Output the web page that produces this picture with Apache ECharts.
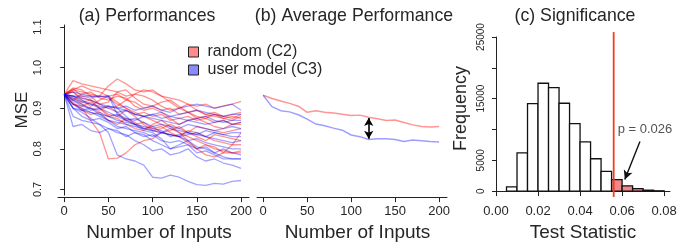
<!DOCTYPE html>
<html><head><meta charset="utf-8">
<script src="https://cdn.jsdelivr.net/npm/echarts@6/dist/echarts.min.js"></script>
<style>html,body{margin:0;padding:0;background:#fff}#c{width:686px;height:247px}</style>
</head><body><div id="c"></div>
<script>
// ---------- data ----------
const inputs = [0,10,20,30,40,50,60,70,80,90,100,110,120,130,140,150,160,170,180,190,200];

const randomRuns = [
  [0.934,0.945,0.940,0.935,0.930,0.955,0.972,0.960,0.945,0.940,0.945,0.930,0.925,0.920,0.910,0.905,0.910,0.900,0.905,0.910,0.917],
  [0.934,0.968,0.960,0.955,0.950,0.945,0.940,0.930,0.935,0.945,0.940,0.930,0.915,0.900,0.910,0.895,0.885,0.890,0.880,0.885,0.890],
  [0.934,0.910,0.900,0.870,0.840,0.775,0.777,0.790,0.810,0.820,0.825,0.840,0.835,0.830,0.815,0.800,0.810,0.805,0.790,0.790,0.795],
  [0.934,0.948,0.930,0.925,0.930,0.925,0.910,0.900,0.890,0.880,0.870,0.860,0.850,0.840,0.830,0.820,0.810,0.800,0.795,0.790,0.790],
  [0.934,0.940,0.925,0.920,0.910,0.900,0.905,0.920,0.935,0.930,0.920,0.905,0.895,0.900,0.890,0.875,0.880,0.885,0.875,0.870,0.880],
  [0.934,0.920,0.935,0.940,0.925,0.920,0.930,0.925,0.905,0.895,0.900,0.890,0.875,0.860,0.870,0.875,0.865,0.855,0.850,0.860,0.865],
  [0.934,0.925,0.910,0.900,0.895,0.905,0.890,0.870,0.860,0.865,0.850,0.855,0.840,0.830,0.845,0.840,0.830,0.820,0.815,0.810,0.810],
  [0.934,0.950,0.945,0.930,0.910,0.915,0.940,0.945,0.925,0.910,0.905,0.915,0.920,0.905,0.890,0.895,0.885,0.880,0.875,0.880,0.875],
  [0.934,0.915,0.895,0.885,0.890,0.870,0.860,0.875,0.865,0.850,0.855,0.840,0.845,0.855,0.840,0.830,0.820,0.835,0.830,0.825,0.820],
  [0.934,0.930,0.915,0.920,0.900,0.885,0.880,0.895,0.880,0.860,0.845,0.850,0.860,0.850,0.840,0.855,0.850,0.845,0.840,0.845,0.850],
  [0.934,0.940,0.920,0.905,0.920,0.930,0.915,0.900,0.885,0.890,0.880,0.885,0.870,0.875,0.880,0.870,0.875,0.865,0.870,0.860,0.860],
  [0.934,0.910,0.905,0.915,0.900,0.880,0.875,0.860,0.850,0.845,0.860,0.870,0.855,0.840,0.820,0.800,0.785,0.780,0.790,0.810,0.840],
  [0.934,0.945,0.955,0.945,0.940,0.930,0.935,0.920,0.915,0.900,0.905,0.895,0.900,0.885,0.890,0.880,0.875,0.885,0.880,0.875,0.885]
];

const userModelRuns = [
  [0.934,0.900,0.890,0.875,0.860,0.840,0.785,0.775,0.770,0.760,0.730,0.728,0.735,0.730,0.720,0.712,0.710,0.715,0.713,0.720,0.722],
  [0.934,0.880,0.870,0.865,0.860,0.850,0.840,0.835,0.820,0.810,0.795,0.800,0.785,0.790,0.800,0.780,0.770,0.775,0.765,0.760,0.752],
  [0.934,0.855,0.860,0.845,0.840,0.850,0.845,0.830,0.840,0.835,0.820,0.810,0.800,0.805,0.810,0.790,0.795,0.785,0.775,0.775,0.775],
  [0.934,0.930,0.930,0.930,0.928,0.930,0.900,0.880,0.860,0.845,0.840,0.825,0.800,0.810,0.820,0.805,0.800,0.790,0.780,0.775,0.775],
  [0.934,0.900,0.880,0.870,0.875,0.865,0.850,0.855,0.840,0.830,0.835,0.820,0.815,0.820,0.810,0.800,0.805,0.790,0.800,0.790,0.785],
  [0.934,0.920,0.905,0.900,0.885,0.870,0.865,0.860,0.855,0.850,0.845,0.840,0.835,0.830,0.820,0.825,0.815,0.810,0.805,0.800,0.800],
  [0.934,0.910,0.895,0.890,0.880,0.870,0.855,0.850,0.845,0.840,0.830,0.840,0.835,0.830,0.835,0.840,0.830,0.825,0.820,0.815,0.820],
  [0.934,0.940,0.935,0.930,0.930,0.930,0.885,0.870,0.860,0.855,0.850,0.845,0.830,0.835,0.840,0.835,0.830,0.840,0.835,0.830,0.830],
  [0.934,0.900,0.895,0.900,0.890,0.880,0.870,0.865,0.860,0.850,0.845,0.840,0.850,0.845,0.840,0.835,0.845,0.840,0.835,0.840,0.840],
  [0.934,0.920,0.910,0.895,0.900,0.890,0.880,0.870,0.875,0.865,0.855,0.860,0.855,0.850,0.860,0.855,0.850,0.845,0.850,0.855,0.850],
  [0.934,0.910,0.900,0.890,0.885,0.880,0.885,0.875,0.870,0.880,0.875,0.870,0.865,0.860,0.870,0.865,0.860,0.865,0.870,0.860,0.865],
  [0.934,0.930,0.920,0.910,0.900,0.905,0.900,0.895,0.885,0.880,0.885,0.890,0.880,0.875,0.870,0.875,0.880,0.870,0.865,0.870,0.870],
  [0.934,0.925,0.915,0.910,0.905,0.900,0.890,0.895,0.885,0.880,0.885,0.875,0.880,0.885,0.890,0.895,0.890,0.885,0.880,0.885,0.885],
  [0.934,0.930,0.925,0.920,0.910,0.905,0.900,0.905,0.895,0.900,0.905,0.895,0.890,0.900,0.905,0.910,0.905,0.900,0.905,0.910,0.895]
];

const avgRandom    = [0.932,0.924,0.918,0.912,0.905,0.890,0.894,0.890,0.888,0.885,0.882,0.883,0.878,0.874,0.870,0.871,0.865,0.859,0.855,0.854,0.855];
const avgUserModel = [0.932,0.904,0.894,0.891,0.884,0.873,0.861,0.857,0.851,0.846,0.834,0.830,0.823,0.825,0.825,0.823,0.818,0.822,0.820,0.818,0.817];
const gapArrow = [[120,0.876],[120,0.825]];

const binStart = [0.005,0.010,0.015,0.020,0.025,0.030,0.035,0.040,0.045,0.050,0.055,0.060,0.065,0.070,0.075];
const binWidth = 0.005;
const binCount = [700,6200,14200,17500,16800,14250,10950,8000,5250,3200,1850,850,400,150,50];
const observedStat = 0.056;
const pText = 'p = 0.026';
const pTextAt = [0.0709,10030];
const pArrow = [[0.0685,8030],[0.0613,1890]];

const xTicksInputs = [0,50,100,150,200];
const yTicksMSE = [0.7,0.8,0.9,1.0,1.1];
const xTicksStat = [0,0.02,0.04,0.06,0.08];
const yTicksFreq = [0,5000,10000,15000,20000,25000];
const yLabelsFreq = [0,5000,15000,25000];

// ---------- chart ----------
const FONT = '"Liberation Sans", Arial, sans-serif';
const TXT = '#262626';
const AX = '#222';
const redRun = 'rgba(255,0,0,0.42)';
const blueRun = 'rgba(0,0,255,0.36)';

function xAxisInputs(gi){
  return {
    type:'value', gridIndex:gi, min:-7, max:209, offset:2,
    axisLine:{show:true, lineStyle:{color:AX, width:1}},
    axisTick:{show:true, length:5, customValues:xTicksInputs, lineStyle:{color:AX}},
    axisLabel:{customValues:xTicksInputs, fontSize:13, color:TXT, margin:8, fontFamily:FONT},
    splitLine:{show:false},
    name:'Number of Inputs', nameLocation:'middle', nameGap:19,
    nameTextStyle:{fontSize:19, color:TXT, fontFamily:FONT, padding:[0,0,0,11]}
  };
}

const series = [];
randomRuns.forEach(run => series.push({
  type:'line', name:'random (C2)', xAxisIndex:0, yAxisIndex:0, showSymbol:false, symbol:'none',
  data: inputs.map((x,i)=>[x, run[i]]), lineStyle:{color:redRun, width:1.3}, itemStyle:{color:redRun},
  silent:true, animation:false
}));
userModelRuns.forEach(run => series.push({
  type:'line', name:'user model (C3)', xAxisIndex:0, yAxisIndex:0, showSymbol:false, symbol:'none',
  data: inputs.map((x,i)=>[x, run[i]]), lineStyle:{color:blueRun, width:1.3}, itemStyle:{color:blueRun},
  silent:true, animation:false
}));
series.push({
  type:'line', name:'avg random', xAxisIndex:1, yAxisIndex:1, showSymbol:false, symbol:'none',
  data: inputs.map((x,i)=>[x, avgRandom[i]]), lineStyle:{color:'rgba(255,0,0,0.42)', width:1.5},
  silent:true, animation:false
});
series.push({
  type:'line', name:'avg user', xAxisIndex:1, yAxisIndex:1, showSymbol:false, symbol:'none',
  data: inputs.map((x,i)=>[x, avgUserModel[i]]), lineStyle:{color:'rgba(0,0,255,0.38)', width:1.5},
  silent:true, animation:false,
  markLine:{silent:true, animation:false, symbol:['arrow','arrow'], symbolSize:[7,8],
    label:{show:false}, lineStyle:{color:'#000', width:1.6, type:'solid'},
    data:[[{coord:gapArrow[0]},{coord:gapArrow[1]}]]}
});
series.push({
  type:'custom', name:'histogram', xAxisIndex:2, yAxisIndex:2, silent:true, animation:false,
  data: binStart.map((b,i)=>[b, b+binWidth, binCount[i]]),
  renderItem(params, api){
    const x0 = api.value(0), x1 = api.value(1), c = api.value(2);
    const p0 = api.coord([x0, c]), p1 = api.coord([x1, 0]);
    return {type:'rect', shape:{x:p0[0], y:p0[1], width:p1[0]-p0[0], height:p1[1]-p0[1]},
      style:{fill: x0 >= observedStat - binWidth/2 - 1e-9 ? '#f4878a' : '#fff', stroke:'#111', lineWidth:1.3}};
  },
  encode:{x:[0,1], y:2}
});
series.push({
  type:'line', name:'observed', xAxisIndex:2, yAxisIndex:2, showSymbol:false, symbol:'none', clip:false,
  data:[[observedStat,-950],[observedStat,25800]], lineStyle:{color:'#f53c22', width:1.8},
  silent:true, animation:false, z:5
});
series.push({
  type:'scatter', name:'pLabel', xAxisIndex:2, yAxisIndex:2, symbolSize:0, silent:true, animation:false,
  data:[pTextAt],
  label:{show:true, position:'inside', formatter:pText, fontSize:13, color:TXT, fontFamily:FONT},
  markLine:{silent:true, animation:false, symbol:['none','arrow'], symbolSize:[7,9],
    label:{show:false}, lineStyle:{color:'#111', width:1.4, type:'solid'},
    data:[[{coord:pArrow[0]},{coord:pArrow[1]}]]}
});

const option = {
  animation:false,
  backgroundColor:'#fff',
  textStyle:{fontFamily:FONT},
  grid:[
    {left:58, top:25, width:191, height:175},
    {left:257, top:25, width:190, height:175},
    {left:496, top:37, width:174, height:160}
  ],
  xAxis:[
    xAxisInputs(0),
    xAxisInputs(1),
    {
      type:'value', gridIndex:2, min:0, max:0.0828, offset:5,
      axisLine:{show:true, lineStyle:{color:AX}},
      axisTick:{show:true, length:5, customValues:xTicksStat, lineStyle:{color:AX}},
      axisLabel:{customValues:xTicksStat, formatter:v=>v.toFixed(2), fontSize:13, color:TXT, margin:8, fontFamily:FONT},
      splitLine:{show:false},
      name:'Test Statistic', nameLocation:'middle', nameGap:19,
      nameTextStyle:{fontSize:19, color:TXT, fontFamily:FONT}
    }
  ],
  yAxis:[
    {
      type:'value', gridIndex:0, min:0.686, max:1.105, offset:6,
      axisLine:{show:true, lineStyle:{color:AX}},
      axisTick:{show:true, length:4, customValues:yTicksMSE, lineStyle:{color:AX}},
      axisLabel:{customValues:yTicksMSE, formatter:v=>v.toFixed(1), rotate:90, fontSize:11, color:TXT, margin:9, fontFamily:FONT},
      splitLine:{show:false},
      name:'MSE', nameLocation:'middle', nameGap:20,
      nameTextStyle:{fontSize:17, color:TXT, fontFamily:FONT}
    },
    {type:'value', gridIndex:1, min:0.686, max:1.105, show:false, splitLine:{show:false}},
    {
      type:'value', gridIndex:2, min:-160, max:25000, offset:6,
      axisLine:{show:true, lineStyle:{color:AX}},
      axisTick:{show:true, length:4, customValues:yTicksFreq, lineStyle:{color:AX}},
      axisLabel:{customValues:yLabelsFreq, formatter:v=>String(v), rotate:90, fontSize:10, color:TXT, margin:4, fontFamily:FONT},
      splitLine:{show:false},
      name:'Frequency', nameLocation:'middle', nameGap:20,
      nameTextStyle:{fontSize:18, color:TXT, fontFamily:FONT, padding:[0,0,0,12]}
    }
  ],
  legend:{
    orient:'vertical', left:183, top:39, itemWidth:10, itemHeight:10, itemGap:2, icon:'rect',
    selectedMode:false,
    textStyle:{fontSize:16, color:TXT, fontFamily:FONT, padding:[0,0,0,4]},
    data:[
      {name:'random (C2)', itemStyle:{color:'#ff8a8a', borderColor:'#222', borderWidth:1}},
      {name:'user model (C3)', itemStyle:{color:'#8a8aff', borderColor:'#222', borderWidth:1}}
    ]
  },
  graphic:[
    {type:'text', x:147, y:16, style:{text:'(a) Performances', fontSize:17.7, fontFamily:FONT, fill:TXT, align:'center', verticalAlign:'middle'}},
    {type:'text', x:354, y:16, style:{text:'(b) Average Performance', fontSize:17.7, fontFamily:FONT, fill:TXT, align:'center', verticalAlign:'middle'}},
    {type:'text', x:575, y:16, style:{text:'(c) Significance', fontSize:17.7, fontFamily:FONT, fill:TXT, align:'center', verticalAlign:'middle'}}
  ],
  series: series
};

const chart = echarts.init(document.getElementById('c'), null, {renderer:'canvas'});
chart.setOption(option);
</script>
</body></html>
